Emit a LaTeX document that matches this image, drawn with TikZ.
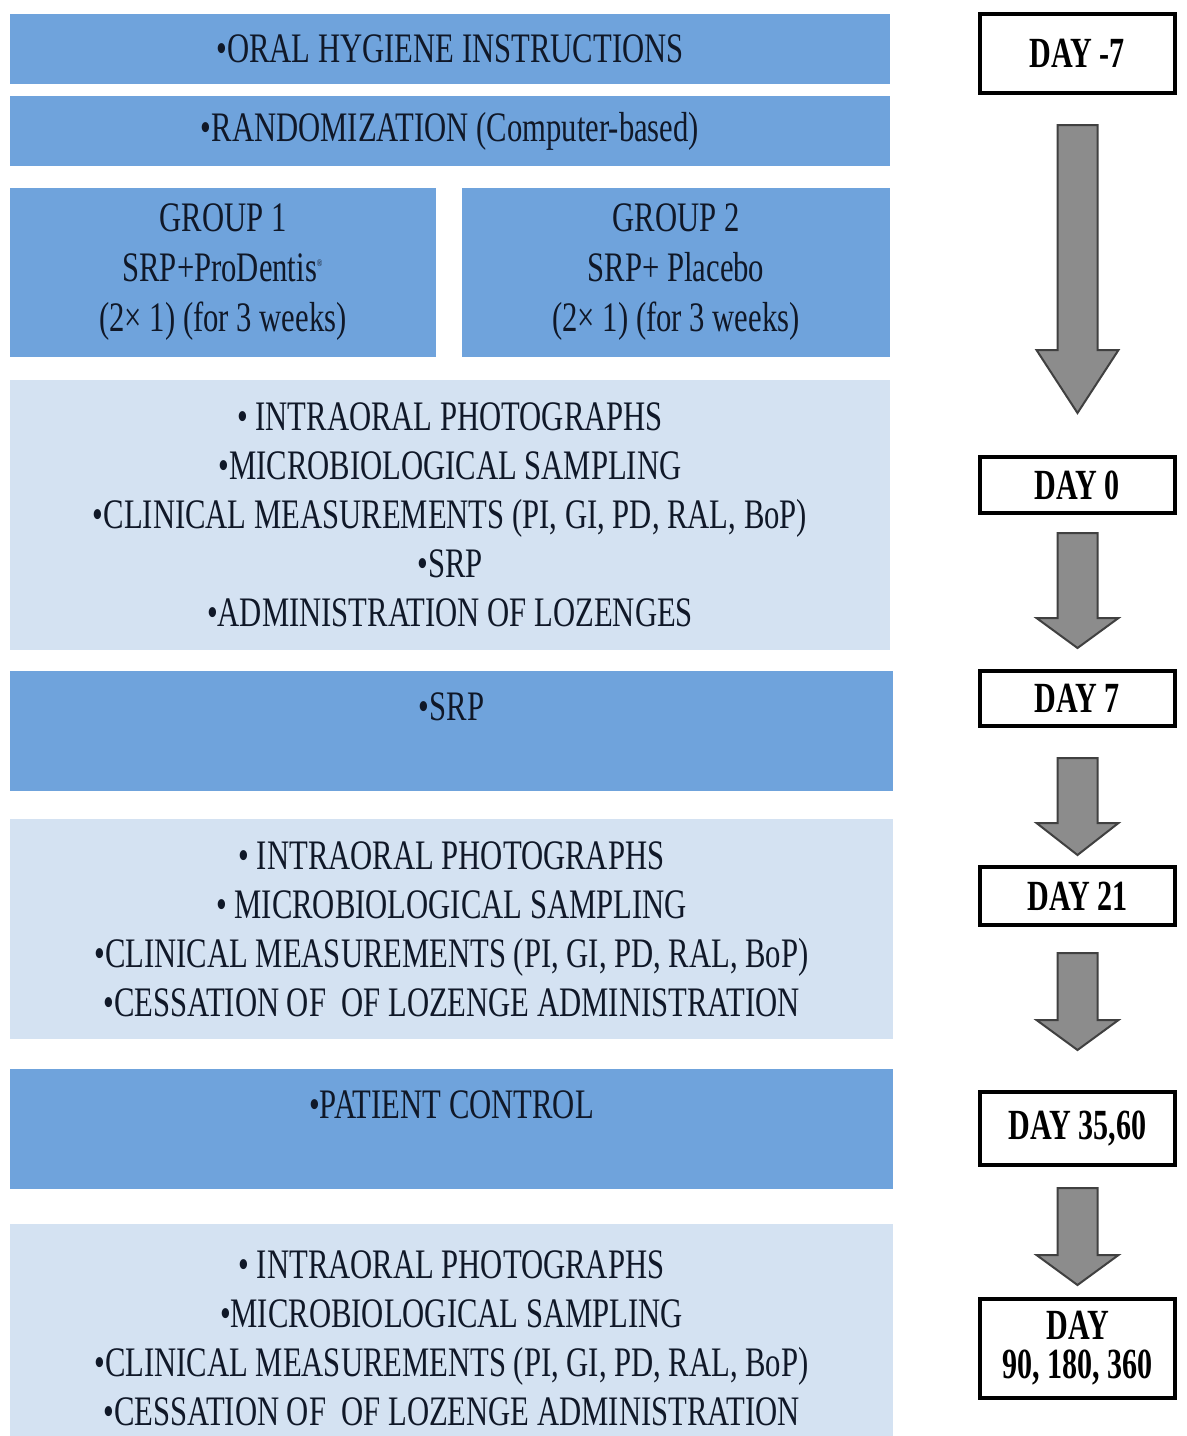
\documentclass[tikz,border=0pt]{standalone}
\usepackage{fontspec}
\usepackage{tikz}
\usetikzlibrary{calc}
\setmainfont{Liberation Serif}
\newfontfamily\stepfont{Liberation Serif}[FakeStretch=0.73]
\newfontfamily\dayfont{Liberation Serif}[FakeStretch=0.70]
\definecolor{darkblue}{HTML}{6FA3DC}
\definecolor{lightblue}{HTML}{D4E2F2}
\definecolor{inktext}{HTML}{101828}
\definecolor{arrowgray}{HTML}{8C8C8C}

\newcommand{\dayarrow}[5]{%
    \path ($(#1.south)+(0,#3)$) coordinate (#1-top) ($(#2.north)+(0,-#4)$) coordinate (#2-tip);
    \draw[grayarrow] (#2-tip) -- ++(-41,-#5) -- ++(21,0) -- ($(#1-top)+(-20,0)$) -- ($(#1-top)+(20,0)$) -- ($(#2-tip)+(20,-#5)$) -- ++(21,0) -- cycle;
}

\begin{document}
\begin{tikzpicture}[x=0.5pt, y=-0.5pt,
    darkbox/.style={rectangle, fill=darkblue, text=inktext, inner sep=0pt, align=center, font=\stepfont\fontsize{21}{24.5}\selectfont},
    lightbox/.style={darkbox, fill=lightblue},
    daybox/.style={rectangle, draw=black, line width=2pt, fill=white, inner sep=0pt, align=center, minimum width=97.5pt, font=\dayfont\bfseries\fontsize{21.5}{19.5}\selectfont},
    grayarrow/.style={fill=arrowgray, draw=black!75, line width=1pt, line join=miter}]
            \useasboundingbox (0,0) rectangle (1187,1436);
            \clip (0,0) rectangle (1187,1436);

            \node[darkbox, minimum width=440pt, minimum height=35pt] (hygiene) at (450, 49) {•ORAL HYGIENE INSTRUCTIONS};
            \node[darkbox, minimum width=440pt, minimum height=35pt] (random) at (450, 131) {•RANDOMIZATION (Computer-based)};
            \node[darkbox, minimum width=213pt, minimum height=84.5pt, font=\stepfont\fontsize{21}{25}\selectfont] (group1) at (223, 272) {GROUP 1\\SRP+ProDentis\textsuperscript{\tiny ®}\\(2× 1) (for 3 weeks)};
            \node[darkbox, minimum width=214pt, minimum height=84.5pt, font=\stepfont\fontsize{21}{25}\selectfont] (group2) at (676, 272) {GROUP 2\\SRP+ Placebo\\(2× 1) (for 3 weeks)};
            \node[lightbox, minimum width=440pt, minimum height=135pt] (visit0) at (450, 515) {• INTRAORAL PHOTOGRAPHS\\•MICROBIOLOGICAL SAMPLING\\•CLINICAL MEASUREMENTS (PI, GI, PD, RAL, BoP)\\•SRP\\•ADMINISTRATION OF LOZENGES};
            \node[darkbox, minimum width=441.5pt, minimum height=60pt] (visit7) at (451.5, 731) {•SRP\\\mbox{}};
            \node[lightbox, minimum width=441.5pt, minimum height=110pt] (visit21) at (451.5, 929) {• INTRAORAL PHOTOGRAPHS\\• MICROBIOLOGICAL SAMPLING\\•CLINICAL MEASUREMENTS (PI, GI, PD, RAL, BoP)\\•CESSATION OF\ \ OF LOZENGE ADMINISTRATION};
            \node[darkbox, minimum width=441.5pt, minimum height=60pt] (control) at (451.5, 1129) {•PATIENT CONTROL\\\mbox{}};
            \node[lightbox, minimum width=441.5pt, minimum height=114pt] (visit90) at (451.5, 1338) {• INTRAORAL PHOTOGRAPHS\\•MICROBIOLOGICAL SAMPLING\\•CLINICAL MEASUREMENTS (PI, GI, PD, RAL, BoP)\\•CESSATION OF\ \ OF LOZENGE ADMINISTRATION};

            \node[daybox, minimum height=39.5pt] (dm7) at (1077.5, 53.5) {DAY -7};
            \node[daybox, minimum height=28pt] (d0) at (1077.5, 485) {DAY 0};
            \node[daybox, minimum height=27.5pt] (d7) at (1077.5, 698.5) {DAY 7};
            \node[daybox, minimum height=29pt] (d21) at (1077.5, 896) {DAY 21};
            \node[daybox, minimum height=36.5pt] (d35) at (1077.5, 1128.5) {DAY 35,60};
            \node[daybox, minimum height=49.5pt] (d90) at (1077.5, 1348.5) {DAY\\90, 180, 360};

            \dayarrow{dm7}{d0}{30}{42}{63}
            \dayarrow{d0}{d7}{18}{21}{30}
            \dayarrow{d7}{d21}{30}{10}{32}
            \dayarrow{d21}{d35}{26}{40}{30}
            \dayarrow{d35}{d90}{21}{12}{30}
        \end{tikzpicture}
\end{document}
